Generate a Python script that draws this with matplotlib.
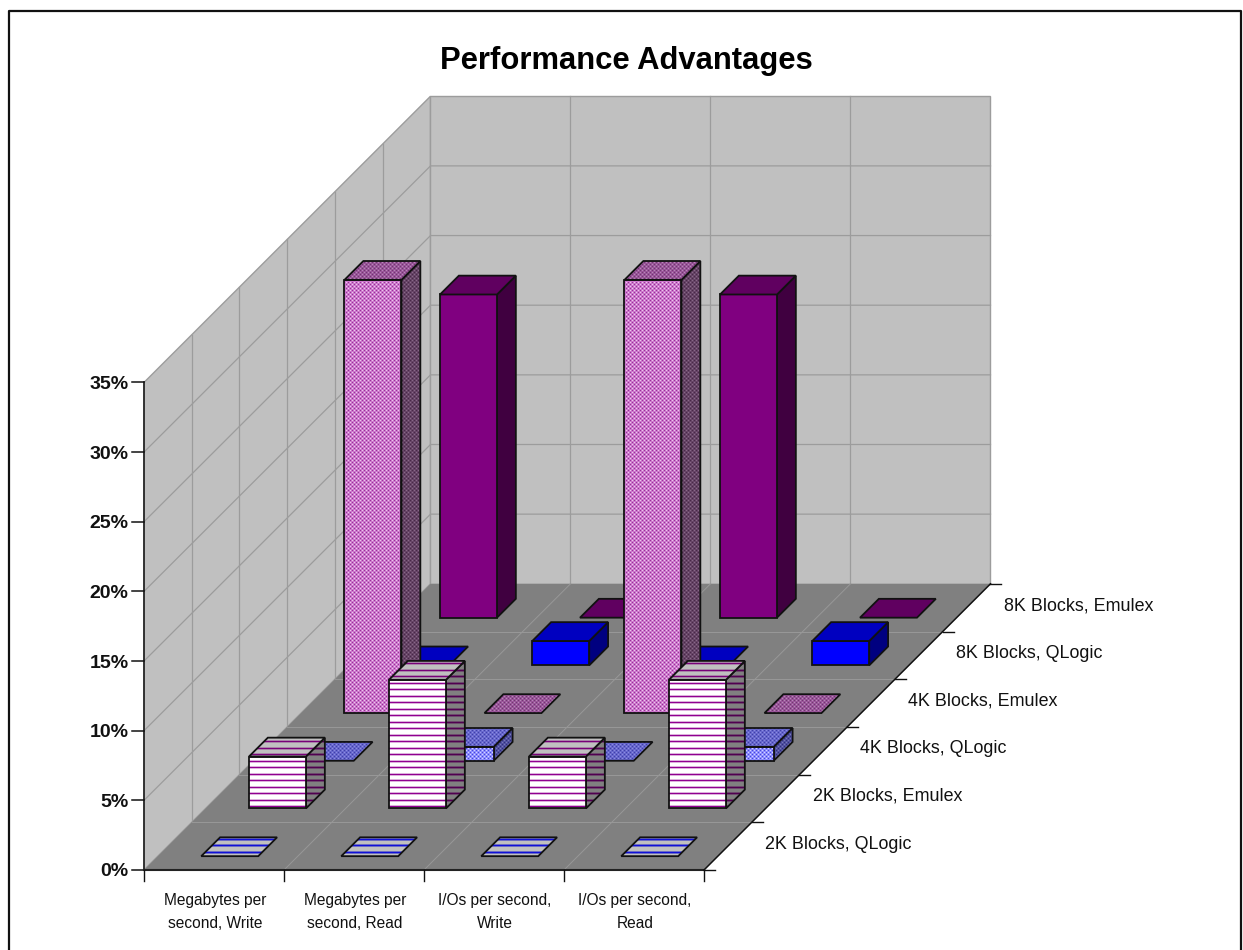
# Libs
import numpy as np
import matplotlib
matplotlib.use("Agg")
import matplotlib.pyplot as plt
from matplotlib.patches import Polygon

plt.rcParams["font.family"] = ["Liberation Sans", "DejaVu Sans"]

# --- Data ---

categories = ["Megabytes per\nsecond, Write", "Megabytes per\nsecond, Read",
              "I/Os per second,\nWrite", "I/Os per second,\nRead"]
series_labels = ["2K Blocks, QLogic", "2K Blocks, Emulex", "4K Blocks, QLogic",
                 "4K Blocks, Emulex", "8K Blocks, QLogic", "8K Blocks, Emulex"]
value_ticks = [0, 5, 10, 15, 20, 25, 30, 35]

qlogic_2k = [0.0, 0.0, 0.0, 0.0]
emulex_2k = [3.73, 9.24, 3.73, 9.24]
qlogic_4k = [0.0, 1.0, 0.0, 1.0]
emulex_4k = [31.1, 0.0, 31.1, 0.0]
qlogic_8k = [0.0, 1.75, 0.0, 1.75]
emulex_8k = [23.2, 0.0, 23.2, 0.0]
all_series = [qlogic_2k, emulex_2k, qlogic_4k, emulex_4k, qlogic_8k, emulex_8k]

# --- Oblique projection (category, row, value) -> canvas pixels ---

WIDTH, HEIGHT = 1243, 950
X0, Y0 = 144.0, 870.0
CAT_W = 140.0
DEPTH_X, DEPTH_Y = 47.75, 47.7
VAL_H = 13.93
BAR_CAT = (0.31, 0.717)
BAR_ROW = (0.29, 0.685)

GRID = "#9c9c9c"
FLOOR_GRID = "#989898"
WALL = "#c0c0c0"
FLOOR = "#808080"


def project(cat, row, value=0.0):
    return (X0 + cat * CAT_W + row * DEPTH_X, Y0 - row * DEPTH_Y - value * VAL_H)


# --- Fill patterns ---

def hex_rgb(code):
    return [int(code[i:i + 2], 16) / 255 for i in (1, 3, 5)]


# 13 px tile holding two horizontal lines
def stripes(background, line, soft):
    b, l, s = hex_rgb(background), hex_rgb(line), hex_rgb(soft)
    return np.array([[l], [s], [b], [b], [b], [b], [s],
                     [l], [s], [b], [b], [b], [s]])


# 4 px dither with light and dark dots on a base colour
def dots(base, light, dark):
    p, w, d = hex_rgb(base), hex_rgb(light), hex_rgb(dark)
    return np.array([[w, p, d, p], [p, p, p, p], [d, p, w, p], [p, p, p, p]])


def solid(colour):
    return colour


# front, top and side face of each series
styles = [
    (stripes("#ffffff", "#1414e0", "#9090f0"),
     stripes("#c0c0c0", "#1010d8", "#6c6cc4"),
     stripes("#808080", "#0a0a90", "#505088")),
    (stripes("#ffffff", "#900090", "#dcb0dc"),
     stripes("#c0c0c0", "#780078", "#a882a8"),
     stripes("#808080", "#500050", "#6c486c")),
    (dots("#8c8cff", "#d4d4ff", "#4848d8"),
     dots("#6666cc", "#8c8ce0", "#4040a8"),
     dots("#5050a0", "#7878b8", "#303078")),
    (dots("#cc77cc", "#eccaec", "#973397"),
     dots("#995599", "#b888b8", "#703870"),
     dots("#664466", "#886888", "#482848")),
    (solid("#0000ff"), solid("#0000c0"), solid("#000080")),
    (solid("#800080"), solid("#600060"), solid("#400040")),
]


# Fills a polygon with a colour or a tiled pattern and strokes its outline
def draw_face(ax, corners, fill, zorder):
    pts = np.array(corners)
    if isinstance(fill, str):
        ax.add_patch(Polygon(pts, closed=True, facecolor=fill, edgecolor="none", zorder=zorder))
    else:
        x0, y0 = np.floor(pts.min(axis=0)).astype(int)
        x1, y1 = np.ceil(pts.max(axis=0)).astype(int)
        if y1 == y0:
            return
        rows = (np.arange(y0, y1) % fill.shape[0])
        cols = (np.arange(x0, x1) % fill.shape[1])
        image = fill[np.ix_(rows, cols)]
        im = ax.imshow(image, extent=(x0, x1, y1, y0), interpolation="nearest",
                       aspect="auto", zorder=zorder)
        clip = Polygon(pts, closed=True, transform=ax.transData)
        im.set_clip_path(clip)
    ax.add_patch(Polygon(pts, closed=True, facecolor="none", edgecolor="#111111",
                         linewidth=1.3, joinstyle="miter", zorder=zorder))


# Draws a single column: top always, front and side when it has height
def draw_bar(ax, cat, row, value, style, zorder):
    front, top, side = style
    c0, c1 = cat + BAR_CAT[0], cat + BAR_CAT[1]
    r0, r1 = row + BAR_ROW[0], row + BAR_ROW[1]
    if value > 0:
        draw_face(ax, [project(c1, r0, 0), project(c1, r1, 0),
                       project(c1, r1, value), project(c1, r0, value)], side, zorder)
        draw_face(ax, [project(c0, r0, 0), project(c1, r0, 0),
                       project(c1, r0, value), project(c0, r0, value)], front, zorder)
    draw_face(ax, [project(c0, r0, value), project(c1, r0, value),
                   project(c1, r1, value), project(c0, r1, value)], top, zorder)


# --- Figure ---

fig = plt.figure(figsize=(WIDTH / 100, HEIGHT / 100), dpi=100, facecolor="white")
ax = fig.add_axes([0, 0, 1, 1])
ax.set_xlim(0, WIDTH)
ax.set_ylim(HEIGHT, 0)
ax.axis("off")

n_cat, n_row = len(categories), len(series_labels)
top_val = value_ticks[-1]

# Chart area border, open along the bottom
ax.plot([9.5, 9.5, 1241, 1241], [HEIGHT, 11, 11, HEIGHT], color="#111111", lw=1.6, zorder=1)

# Walls and floor
ax.add_patch(Polygon([project(0, 0), project(0, n_row), project(0, n_row, top_val), project(0, 0, top_val)],
                     facecolor=WALL, edgecolor=GRID, lw=1.0, zorder=1))
ax.add_patch(Polygon([project(0, n_row), project(n_cat, n_row), project(n_cat, n_row, top_val), project(0, n_row, top_val)],
                     facecolor=WALL, edgecolor=GRID, lw=1.0, zorder=1))
ax.add_patch(Polygon([project(0, 0), project(n_cat, 0), project(n_cat, n_row), project(0, n_row)],
                     facecolor=FLOOR, edgecolor="none", zorder=1.5))

# Wall gridlines
for v in value_ticks[1:-1]:
    ax.plot(*zip(project(0, 0, v), project(0, n_row, v), project(n_cat, n_row, v)), color=GRID, lw=0.9, zorder=1.2)
for r in range(1, n_row):
    ax.plot(*zip(project(0, r, 0), project(0, r, top_val)), color=GRID, lw=0.9, zorder=1.2)
for c in range(1, n_cat):
    ax.plot(*zip(project(c, n_row, 0), project(c, n_row, top_val)), color=GRID, lw=0.9, zorder=1.2)

# Floor gridlines
for r in range(1, n_row):
    ax.plot(*zip(project(0, r), project(n_cat, r)), color=FLOOR_GRID, lw=0.7, zorder=1.6)
for c in range(1, n_cat):
    ax.plot(*zip(project(c, 0), project(c, n_row)), color=FLOOR_GRID, lw=0.7, zorder=1.6)

# Columns, back row first so nearer ones overlap
z = 2.0
for r in range(n_row - 1, -1, -1):
    for c in range(n_cat):
        draw_bar(ax, c, r, all_series[r][c], styles[r], z)
        z += 0.01

# Value axis
ax.plot(*zip(project(0, 0, 0), project(0, 0, top_val)), color="#111111", lw=1.1, zorder=3)
for v in value_ticks:
    x, y = project(0, 0, v)
    ax.plot([x - 12, x], [y, y], color="#111111", lw=1.1, zorder=3)
    ax.text(x - 15.5, y + 2, f"{v}%", ha="right", va="center", fontsize=14, fontweight="bold", color="#111111")

# Category axis
ax.plot(*zip(project(0, 0), project(n_cat, 0)), color="#222222", lw=1.5, zorder=3)
for c in range(n_cat + 1):
    x, y = project(c, 0)
    ax.plot([x, x], [y, y + 11], color="#111111", lw=1.0, zorder=3)
for c, label in enumerate(categories):
    x, y = project(c + 0.5, 0)
    ax.text(x + 1, y + 42, label, ha="center", va="center", fontsize=11.2,
            linespacing=1.65, color="#111111")

# Depth axis
ax.plot(*zip(project(n_cat, 0), project(n_cat, n_row)), color="#111111", lw=1.1, zorder=3)
for r in range(n_row + 1):
    x, y = project(n_cat, r)
    ax.plot([x, x + 11], [y, y], color="#111111", lw=1.0, zorder=3)
for r, label in enumerate(series_labels):
    x, y = project(n_cat, r + 0.5)
    ax.text(x + 37, y - 2, label, ha="left", va="center", fontsize=12.9, color="#111111")

ax.text(626, 61, "Performance Advantages", ha="center", va="center",
        fontsize=22.3, fontweight="bold", color="black")

fig.savefig("out.png", dpi=100)
plt.close(fig)
